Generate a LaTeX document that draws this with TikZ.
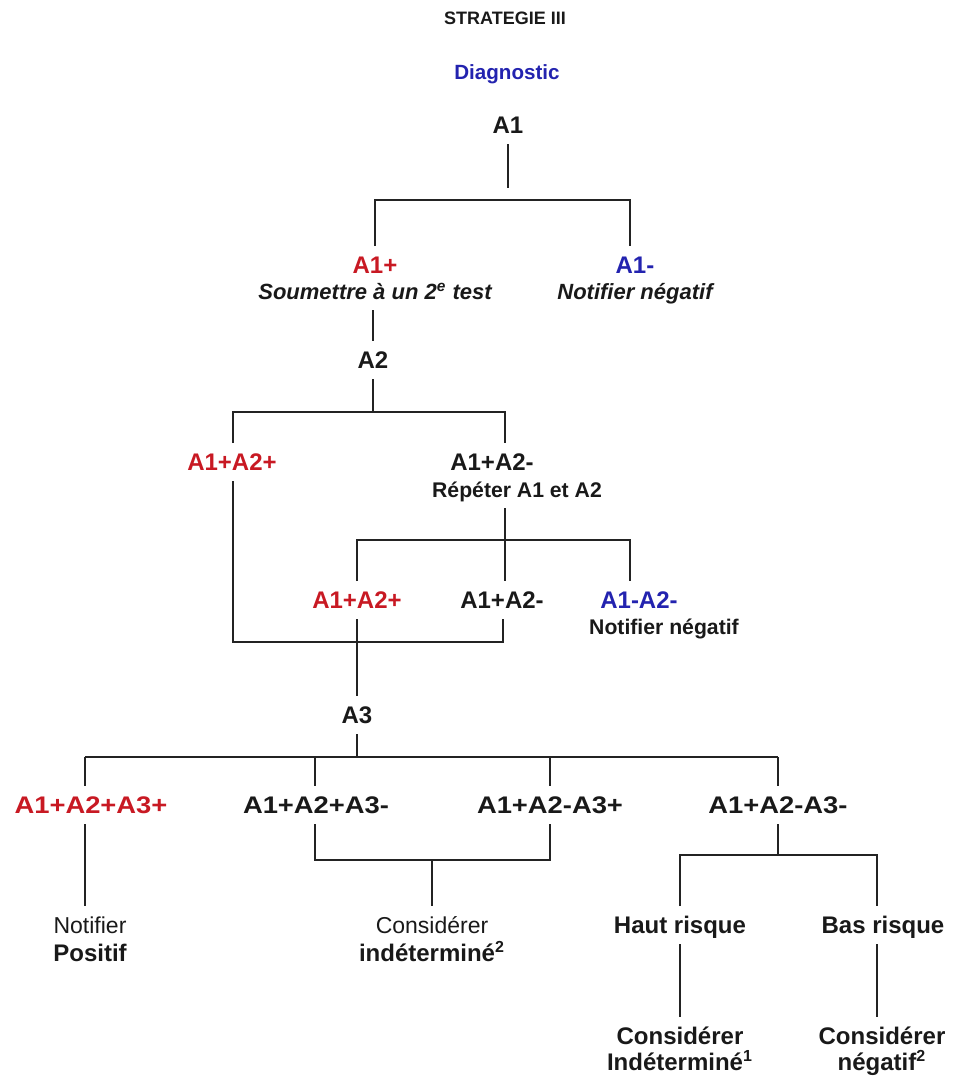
\documentclass[tikz,border=0pt]{standalone}
\usepackage{fontspec}
\setmainfont{Liberation Sans}
\definecolor{myred}{RGB}{200,25,35}
\definecolor{myblue}{RGB}{35,35,175}
\definecolor{myline}{RGB}{35,35,35}
\definecolor{mytext}{RGB}{25,25,25}
\begin{document}
\begin{tikzpicture}[x=0.5pt,y=-0.5pt,
  every node/.style={inner xsep=0pt, inner ysep=5pt, text depth=0pt, text=mytext},
  lbl/.style={font=\bfseries\fontsize{12}{14}\selectfont, text height=8.6pt},
  wide/.style={font=\bfseries\fontsize{12}{14}\selectfont\addfontfeature{FakeStretch=1.14}, text height=8.6pt},
  sub/.style={font=\bfseries\fontsize{10.6}{13}\selectfont, text height=7.6pt},
  subit/.style={font=\bfseries\itshape\fontsize{11}{13}\selectfont, text height=7.9pt},
  reg/.style={font=\fontsize{11.5}{13}\selectfont, text height=8.2pt},
  red/.style={text=myred}, blue/.style={text=myblue},
  conn/.style={draw=myline, line width=1pt}
]
\useasboundingbox (0,0) rectangle (954,1078);

% titles
\node[font=\bfseries\fontsize{9}{11}\selectfont, text height=6.5pt] (title) at (505,18) {STRATEGIE III};
\node[font=\bfseries\fontsize{10.3}{12}\selectfont, text height=7.4pt, blue] (diag) at (507,72) {Diagnostic};

% level 1
\node[lbl] (A1) at (508,125) {A1};
\node[lbl, red] (A1p) at (375,265) {A1+};
\node[subit] (soum) at (375,292) {Soumettre à un 2\textsuperscript{e} test};
\node[lbl, blue] (A1m) at (635,265) {A1-};
\node[subit] (nn1) at (635,292) {Notifier négatif};

% level 2
\node[lbl] (A2) at (373,360) {A2};
\node[lbl, red] (A1pA2p) at (232,462) {A1+A2+};
\node[lbl] (A1pA2m) at (492,462) {A1+A2-};
\node[sub] (rep) at (517,490) {Répéter A1 et A2};

\node[lbl, red] (r2a) at (357,600) {A1+A2+};
\node[lbl] (r2b) at (502,600) {A1+A2-};
\node[lbl, blue] (r2c) at (639,600) {A1-A2-};
\node[sub] (nn2) at (664,627) {Notifier négatif};

% level 3
\node[lbl] (A3) at (357,715) {A3};
\node[wide, red] (b1) at (91,805) {A1+A2+A3+};
\node[wide] (b2) at (316,805) {A1+A2+A3-};
\node[wide] (b3) at (550,805) {A1+A2-A3+};
\node[wide] (b4) at (778,805) {A1+A2-A3-};

\node[reg] (notif) at (90,925) {Notifier};
\node[lbl] (posit) at (90,953) {Positif};
\node[reg] (consid) at (432,925) {Considérer};
\node[lbl] (indet) at (432,953) {indéterminé\textsuperscript{2}};
\node[lbl] (haut) at (680,925) {Haut risque};
\node[lbl] (bas) at (883,925) {Bas risque};
\node[lbl] (c1) at (680,1036) {Considérer};
\node[lbl] (c1b) at (680,1062) {Indéterminé\textsuperscript{1}};
\node[lbl] (c2) at (882,1036) {Considérer};
\node[lbl] (c2b) at (882,1062) {négatif\textsuperscript{2}};

% junction coordinates
\coordinate (e1) at (508,188);
\coordinate (h1L) at (375,200);
\coordinate (h1R) at (630,200);
\coordinate (j2) at (373,412);
\coordinate (h2L) at (233,412);
\coordinate (h2R) at (505,412);
\coordinate (j3) at (505,540);
\coordinate (h3L) at (357,540);
\coordinate (h3R) at (630,540);
\coordinate (h4L) at (233,642);
\coordinate (h4R) at (503,642);
\coordinate (j5) at (357,757);
\coordinate (h5a) at (85,757);
\coordinate (h5b) at (315,757);
\coordinate (h5c) at (550,757);
\coordinate (h5d) at (778,757);
\coordinate (h6L) at (315,860);
\coordinate (h6R) at (550,860);
\coordinate (j6) at (432,860);
\coordinate (h7L) at (680,855);
\coordinate (h7R) at (877,855);
\coordinate (j7) at (778,855);

% connectors
\draw[conn] (A1.south) -- (e1);
\draw[conn] (h1L |- A1p.north) -- (h1L) -- (h1R) -- (h1R |- A1m.north);
\draw[conn] (soum.south -| A2.north) -- (A2.north);
\draw[conn] (A2.south) -- (j2);
\draw[conn] (h2L |- A1pA2p.north) -- (h2L) -- (h2R) -- (h2R |- A1pA2m.north);
\draw[conn] (j3 |- rep.south) -- (j3 |- r2b.north);
\draw[conn] (h3L |- r2a.north) -- (h3L) -- (h3R) -- (h3R |- r2c.north);
\draw[conn] (h4L |- A1pA2p.south) -- (h4L) -- (h4R) -- (h4R |- r2b.south);
\draw[conn] (r2a.south) -- (A3.north);
\draw[conn] (A3.south) -- (j5);
\draw[conn] (h5a) -- (h5d);
\draw[conn] (h5a) -- (h5a |- b1.north);
\draw[conn] (h5b) -- (h5b |- b2.north);
\draw[conn] (h5c) -- (h5c |- b3.north);
\draw[conn] (h5d) -- (h5d |- b4.north);
\draw[conn] (h5a |- b1.south) -- (h5a |- notif.north);
\draw[conn] (h6L |- b2.south) -- (h6L) -- (h6R) -- (h6R |- b3.south);
\draw[conn] (j6) -- (consid.north);
\draw[conn] (j7 |- b4.south) -- (j7);
\draw[conn] (h7L |- haut.north) -- (h7L) -- (h7R) -- (h7R |- bas.north);
\draw[conn] (haut.south) -- (c1.north);
\draw[conn] (h7R |- bas.south) -- (h7R |- c2.north);
\end{tikzpicture}
\end{document}
